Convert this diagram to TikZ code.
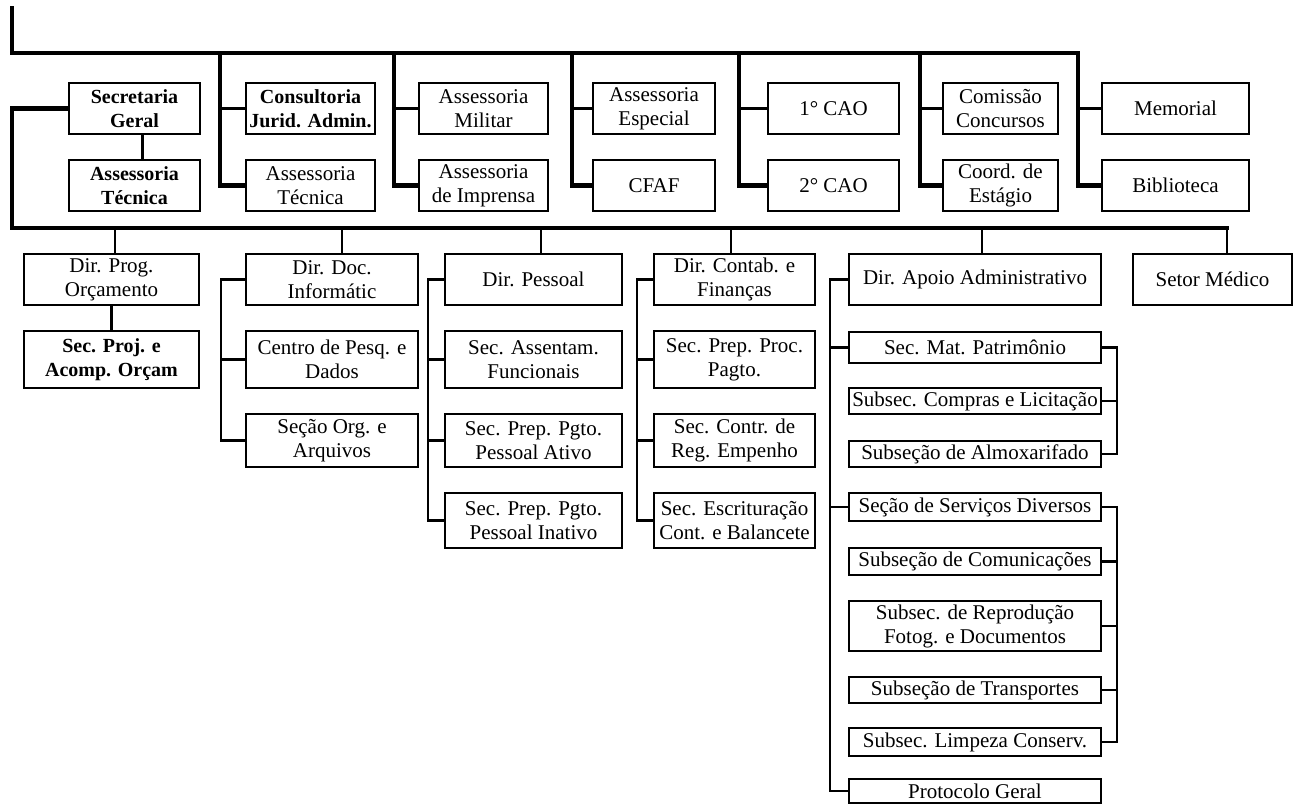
\documentclass[tikz,border=0pt]{standalone}
\usepackage{fontspec}
\setmainfont{Liberation Serif}
\tikzset{
  unit/.style={draw, line width=1.6pt, align=center, inner sep=0pt,
    font=\fontsize{21}{24}\selectfont},
  strong/.style={unit, font=\fontsize{20}{24}\selectfont\bfseries},
  bus/.style={line width=4.5pt, line cap=rect},
  link/.style={line width=2.2pt},
}
\begin{document}
\begin{tikzpicture}[x=1pt,y=-1pt]
    \useasboundingbox (0,0) rectangle (1296,804);
    % assessorias, upper and lower row
    \node[strong, minimum width=131, minimum height=51] (secger) at (134.5,108.5) {Secretaria\\Geral};
    \node[strong, minimum width=131, minimum height=51] (astecA) at (134.5,185.5) {Assessoria\\Técnica};
    \node[strong, minimum width=129, minimum height=51] (consjur) at (310.5,108.5) {Consultoria\\Jurid. Admin.};
    \node[unit, minimum width=129, minimum height=51] (astecB) at (310.5,185.5) {Assessoria\\Técnica};
    \node[unit, minimum width=129, minimum height=51] (asmil) at (483.5,108.5) {Assessoria\\Militar};
    \node[unit, minimum width=129, minimum height=51] (asimp) at (483.5,185.5) {Assessoria\\de Imprensa};
    \node[unit, minimum width=122, minimum height=51] (asesp) at (654,108.5) {Assessoria\\Especial};
    \node[unit, minimum width=122, minimum height=51] (cfaf) at (654,185.5) {CFAF};
    \node[unit, minimum width=131, minimum height=51] (caoA) at (833.5,108.5) {1° CAO};
    \node[unit, minimum width=131, minimum height=51] (caoB) at (833.5,185.5) {2° CAO};
    \node[unit, minimum width=115, minimum height=51] (comcon) at (1000.5,108.5) {Comissão\\Concursos};
    \node[unit, minimum width=115, minimum height=51] (coord) at (1000.5,185.5) {Coord. de\\Estágio};
    \node[unit, minimum width=147, minimum height=51] (memor) at (1175.5,108.5) {Memorial};
    \node[unit, minimum width=147, minimum height=51] (biblio) at (1175.5,185.5) {Biblioteca};
    % diretorias
    \node[unit, minimum width=175, minimum height=51] (dprog) at (111.5,279.5) {Dir. Prog.\\Orçamento};
    \node[strong, minimum width=175, minimum height=57] (sproj) at (111.5,359.5) {Sec. Proj. e\\Acomp. Orçam};
    \node[unit, minimum width=172, minimum height=51] (ddoc) at (332,279.5) {Dir. Doc.\\Informátic};
    \node[unit, minimum width=172, minimum height=57] (centro) at (332,359.5) {Centro de Pesq. e\\Dados};
    \node[unit, minimum width=172, minimum height=53] (sorg) at (332,440.5) {Seção Org. e\\Arquivos};
    \node[unit, minimum width=177, minimum height=51] (dpes) at (533.5,279.5) {Dir. Pessoal};
    \node[unit, minimum width=177, minimum height=57] (sassent) at (533.5,359.5) {Sec. Assentam.\\Funcionais};
    \node[unit, minimum width=177, minimum height=53] (sativo) at (533.5,440.5) {Sec. Prep. Pgto.\\Pessoal Ativo};
    \node[unit, minimum width=177, minimum height=55] (sinat) at (533.5,520.5) {Sec. Prep. Pgto.\\Pessoal Inativo};
    \node[unit, minimum width=161, minimum height=51] (dcont) at (734.5,279.5) {Dir. Contab. e\\Finanças};
    \node[unit, minimum width=161, minimum height=57] (sproc) at (734.5,359.5) {Sec. Prep. Proc.\\Pagto.};
    \node[unit, minimum width=161, minimum height=53] (sempen) at (734.5,440.5) {Sec. Contr. de\\Reg. Empenho};
    \node[unit, minimum width=161, minimum height=55] (sescr) at (734.5,520.5) {Sec. Escrituração\\Cont. e Balancete};
    \node[unit, minimum width=252, minimum height=51] (dapoio) at (975,279.5) {Dir. Apoio Administrativo};
    \node[unit, minimum width=159, minimum height=51] (smed) at (1212.5,279.5) {Setor Médico};
    % apoio administrativo
    \node[unit, minimum width=252, minimum height=31] (smat) at (975,347.5) {Sec. Mat. Patrimônio};
    \node[unit, minimum width=252, minimum height=26] (scompr) at (975,401) {Subsec. Compras e Licitação};
    \node[unit, minimum width=252, minimum height=26] (salmox) at (975,454) {Subseção de Almoxarifado};
    \node[unit, minimum width=252, minimum height=28] (sserv) at (975,507) {Seção de Serviços Diversos};
    \node[unit, minimum width=252, minimum height=27] (scomun) at (975,561.5) {Subseção de Comunicações};
    \node[unit, minimum width=252, minimum height=50] (srepro) at (975,626) {Subsec. de Reprodução\\Fotog. e Documentos};
    \node[unit, minimum width=252, minimum height=26] (stransp) at (975,690) {Subseção de Transportes};
    \node[unit, minimum width=252, minimum height=28] (slimp) at (975,742) {Subsec. Limpeza Conserv.};
    \node[unit, minimum width=252, minimum height=24] (sprot) at (975,791) {Protocolo Geral};
    % top bus
    \coordinate (top) at (12,8);
    \coordinate (topR) at (1078,53);
    \draw[bus] (top) |- (topR) |- (biblio.west);
    \draw[link] (memor.west) -- (memor.west -| topR);
    \foreach \col/\up/\low in {220/consjur/astecB, 394/asmil/asimp, 572/asesp/cfaf, 739/caoA/caoB, 920/comcon/coord} {
        \draw[bus] (\col,53) |- (\low.west);
        \draw[link] (\up.west) -- (\up.west -| \col,0);
    }
    % middle bus
    \coordinate (midL) at (12,228);
    \coordinate (midR) at (1227,228);
    \draw[bus] (secger.west) -| (midL) -- (midR);
    \draw[link] ([xshift=8pt]secger.south) -- ([xshift=8pt]astecA.north);
    \foreach \dx/\dn in {115/dprog, 342/ddoc, 541/dpes, 731/dcont, 982/dapoio, 1227/smed}
        \draw[link] (\dx,228) -- (\dn.north -| \dx,0);
    % left brackets
    \draw[link] (dprog) -- (sproj);
    \draw[link] (ddoc.west) -- ++(-24,0) |- (sorg.west);
    \draw[link] (centro.west) -- ++(-24,0);
    \draw[link] (dpes.west) -- ++(-16,0) |- (sinat.west);
    \foreach \n in {sassent, sativo}
        \draw[link] (\n.west) -- ++(-16,0);
    \draw[link] (dcont.west) -- ++(-16,0) |- (sescr.west);
    \foreach \n in {sproc, sempen}
        \draw[link] (\n.west) -- ++(-16,0);
    \draw[link] (dapoio.west) -- ++(-18,0) |- (sprot.west);
    \foreach \n in {smat, sserv}
        \draw[link] (\n.west) -- ++(-18,0);
    % right brackets
    \draw[link] (smat.east) -- ++(15,0) |- (salmox.east);
    \draw[link] (scompr.east) -- ++(15,0);
    \draw[link] (sserv.east) -- ++(15,0) |- (slimp.east);
    \foreach \n in {scomun, srepro, stransp}
        \draw[link] (\n.east) -- ++(15,0);
\end{tikzpicture}
\end{document}
